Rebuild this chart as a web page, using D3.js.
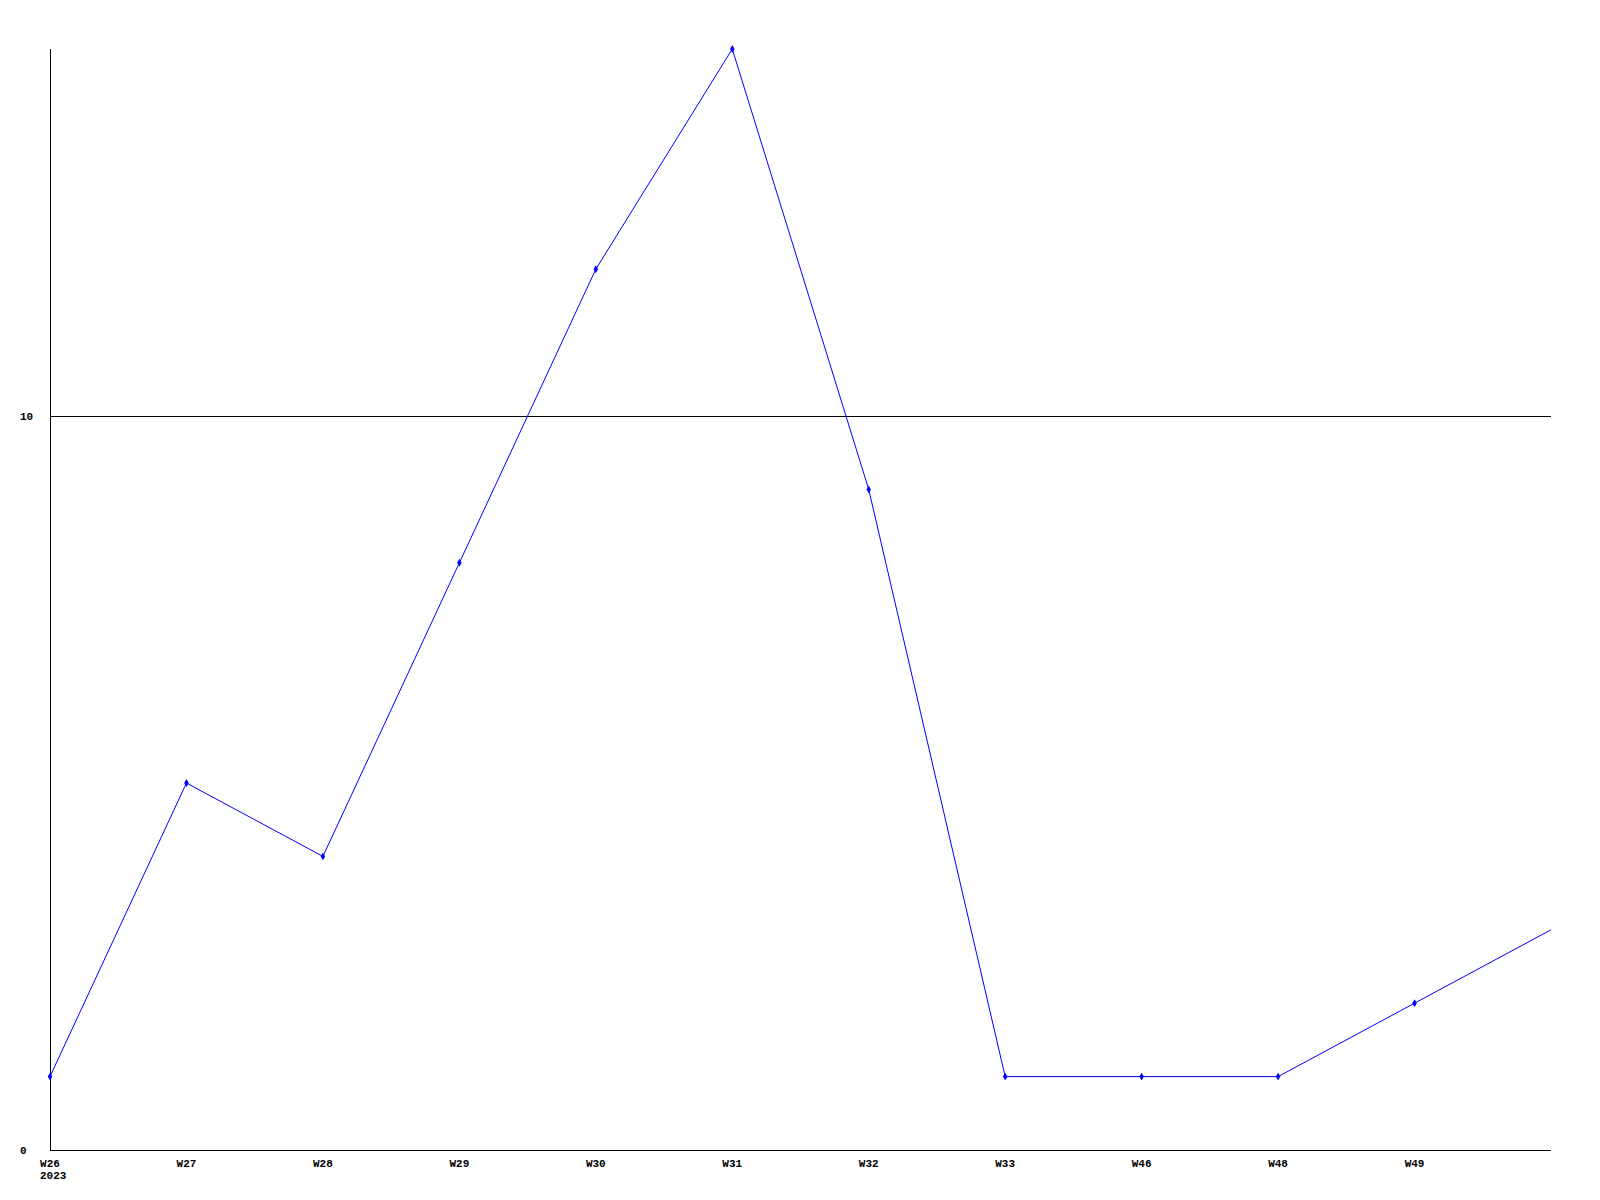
<!DOCTYPE html>
<html><head><meta charset="utf-8">
<script src="https://cdn.jsdelivr.net/npm/d3@7"></script>
<style>body{margin:0;background:#fff}</style>
</head><body>
<svg id="c" width="1600" height="1200"></svg>
<script>
const categories = ["W26","W27","W28","W29","W30","W31","W32","W33","W46","W48","W49",""];
const values = [1,5,4,8,12,15,9,1,1,1,2,3];
const yTicks = [0,10];
const yearLabel = "2023";

(function(){
const svg = d3.select("#c");
const mL = 50, mR = 1551, mT = 49, mB = 1150;
const x = d3.scalePoint().domain(d3.range(categories.length)).range([mL, mR]);
const y = d3.scaleLinear().domain([0,15]).range([mB, mT]);
const font = "'Liberation Mono', 'DejaVu Sans Mono', monospace";

svg.selectAll("line.grid").data(yTicks.filter(d=>d>0)).enter().append("line")
  .attr("x1", mL).attr("x2", mR).attr("y1", d=>Math.floor(y(d))+0.5).attr("y2", d=>Math.floor(y(d))+0.5)
  .attr("stroke", "#000").attr("stroke-width", 1);

svg.append("line").attr("x1", mL+0.5).attr("x2", mL+0.5).attr("y1", mT).attr("y2", mB+0.5).attr("stroke","#000");
svg.append("line").attr("x1", mL).attr("x2", mR).attr("y1", mB+0.5).attr("y2", mB+0.5).attr("stroke","#000");

svg.selectAll("text.yl").data(yTicks).enter().append("text")
  .attr("x", 20).attr("y", d=>y(d)+4)
  .attr("font-family", font).attr("font-weight","bold").attr("font-size", 11)
  .text(d=>d);

svg.selectAll("text.xl").data(categories).enter().append("text")
  .attr("x", (d,i)=>x(i)).attr("y", 1167).attr("text-anchor","middle")
  .attr("font-family", font).attr("font-weight","bold").attr("font-size", 11)
  .text(d=>d);
svg.append("text").attr("x", 40).attr("y", 1179)
  .attr("font-family", font).attr("font-weight","bold").attr("font-size", 11)
  .text(yearLabel);

const line = d3.line().x((d,i)=>x(i)).y(d=>y(d));
svg.append("path").datum(values).attr("d", line)
  .attr("fill","none").attr("stroke","#0000ff").attr("stroke-width",1);

svg.selectAll("path.m").data(values.slice(0, values.length-1)).enter().append("path")
  .attr("d", d3.symbol().type(d3.symbolDiamond).size(18))
  .attr("transform", (d,i)=>`translate(${x(i)},${y(d)})`)
  .attr("fill","#0000ff");
})();
</script>
</body></html>
